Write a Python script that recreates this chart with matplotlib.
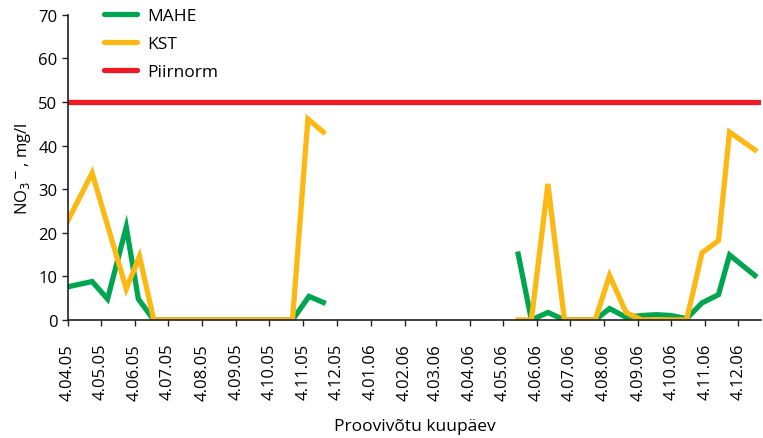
import numpy as np
import pandas as pd
import matplotlib
matplotlib.use("Agg")
import matplotlib.pyplot as plt

plt.rcParams['font.family'] = ['Open Sans', 'DejaVu Sans']

# sample dates and NO3 values (mg/l); None marks the gap between seasons
mahe_dates = ['2005-04-04', '2005-04-26', '2005-05-10', '2005-05-27', '2005-06-07',
              '2005-06-21', '2005-10-25', '2005-11-09', '2005-11-22', None,
              '2006-05-18', '2006-05-30', '2006-06-14', '2006-06-29', '2006-07-27',
              '2006-08-09', '2006-08-24', '2006-09-07', '2006-09-21', '2006-10-04',
              '2006-10-18', '2006-11-01', '2006-11-16', '2006-11-26', '2006-12-19']
mahe_vals = [7.6, 8.8, 4.8, 21.3, 4.8,
             0, 0, 5.4, 4.0, None,
             15.1, 0, 1.7, 0, 0,
             2.6, 0.6, 1.0, 1.2, 1.0,
             0.3, 3.9, 5.8, 14.9, 10.2]

kst_dates = ['2005-04-04', '2005-04-26', '2005-05-27', '2005-06-08', '2005-06-21',
             '2005-10-25', '2005-11-08', '2005-11-22', None,
             '2006-05-18', '2006-05-30', '2006-06-14', '2006-06-29', '2006-07-27',
             '2006-08-09', '2006-08-24', '2006-09-07', '2006-10-18',
             '2006-11-01', '2006-11-16', '2006-11-26', '2006-12-19']
kst_vals = [22.8, 33.7, 7.1, 14.6, 0,
            0, 46.1, 43.1, None,
            0, 0, 31.2, 0, 0,
            10.2, 1.7, 0, 0,
            15.4, 18.2, 43.1, 39.0]

piirnorm = 50

tick_labels = ['4.04.05', '4.05.05', '4.06.05', '4.07.05', '4.08.05', '4.09.05',
               '4.10.05', '4.11.05', '4.12.05', '4.01.06', '4.02.06', '4.03.06',
               '4.04.06', '4.05.06', '4.06.06', '4.07.06', '4.08.06', '4.09.06',
               '4.10.06', '4.11.06', '4.12.06']
tick_dates = pd.to_datetime(tick_labels, format='%d.%m.%y')


def to_series(dates, vals):
    # the None entry becomes a NaN point one day after its neighbour -> line gap
    d, v = [], []
    for x, y in zip(dates, vals):
        if x is None:
            d.append(d[-1] + pd.Timedelta(days=1))
            v.append(np.nan)
        else:
            d.append(pd.Timestamp(x))
            v.append(y)
    return d, v


fig = plt.figure(figsize=(7.63, 4.39), dpi=100)
ax = fig.add_axes([0.089, 0.269, 0.909, 0.695])

md, mv = to_series(mahe_dates, mahe_vals)
kd, kv = to_series(kst_dates, kst_vals)

ax.plot(md, mv, color='#00A551', lw=3.8, label='MAHE', solid_joinstyle='miter')
ax.plot(kd, kv, color='#FDB913', lw=3.8, label='KST', solid_joinstyle='miter')
ax.axhline(piirnorm, color='#ED1C24', lw=3.8, label='Piirnorm')

ax.set_xlim(pd.Timestamp('2005-04-04'), pd.Timestamp('2006-12-25'))
ax.set_ylim(0, 70)
ax.set_yticks(range(0, 71, 10))
ax.set_xticks(tick_dates)
ax.set_xticklabels(tick_labels, rotation=90, fontsize=12)
ax.tick_params(axis='y', labelsize=12, pad=3)
ax.tick_params(axis='x', pad=12)
ax.tick_params(direction='out', length=4.5, width=1, color='#231F20')

for s in ['top', 'right']:
    ax.spines[s].set_visible(False)
for s in ['left', 'bottom']:
    ax.spines[s].set_color('#231F20')
    ax.spines[s].set_linewidth(1.2)

ax.set_ylabel('NO$_3$$^-$, mg/l', fontsize=12, labelpad=4)
ax.set_xlabel('Proovivõtu kuupäev', fontsize=12.5, labelpad=13)

leg = ax.legend(loc='upper left', bbox_to_anchor=(0.03, 1.073), frameon=False,
                fontsize=12.5, handlelength=1.9, labelspacing=0.68, handletextpad=0.6)
for line in leg.get_lines():
    line.set_solid_capstyle('round')

fig.savefig('out.png', dpi=100)
